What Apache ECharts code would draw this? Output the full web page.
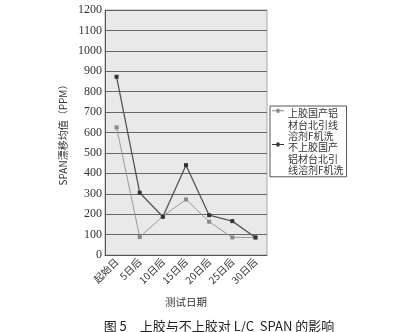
<!DOCTYPE html>
<html><head><meta charset="utf-8">
<script src="https://cdn.jsdelivr.net/npm/echarts@6/dist/echarts.min.js"></script>
<style>html,body{margin:0;padding:0;background:#fff}#c{width:413px;height:332px}</style>
</head><body><div id="c"></div>
<script>
const categories = ['起始日','5日后','10日后','15日后','20日后','25日后','30日后'];
const seriesGlue = [625, 88, 190, 272, 163, 86, 86];
const seriesNoGlue = [873, 305, 187, 440, 195, 166, 86];
const seriesNames = ['上胶国产铝\n材台北引线\n溶剂F机洗', '不上胶国产\n铝材台北引\n线溶剂F机洗'];
const yTicks = {min: 0, max: 1200, interval: 100};

const chart = echarts.init(document.getElementById('c'));
const serif = '"Liberation Serif","DejaVu Serif",serif';
const cjk = '"Noto Sans CJK SC","Liberation Serif",serif';
// legend icon: short line with square marker at the top of a tall box
const iconPath = 'path://M0,3 L12,3 L12,4 L0,4 Z M4.5,1.5 L7.5,1.5 L7.5,5.5 L4.5,5.5 Z M0,34 L0.01,34 L0.01,34.01 Z';
chart.setOption({
  animation: false,
  backgroundColor: '#fff',
  grid: {left: 105, right: 146, top: 10, bottom: 77, show: true, backgroundColor: '#e9e9e9', borderColor: '#aaa', borderWidth: 1},
  title: {
    text: '图 5　上胶与不上胶对 L/C  SPAN 的影响',
    left: 214, textAlign: 'center', top: 315,
    textStyle: {fontFamily: cjk, fontSize: 13, fontWeight: 'normal', color: '#222'}
  },
  legend: {
    orient: 'vertical', left: 270, top: 106,
    data: seriesNames.map(n => ({name: n, icon: iconPath})),
    borderColor: '#555', borderWidth: 1, padding: [2, 3, 1, 2],
    itemGap: 0, itemWidth: 12, itemHeight: 34,
    textStyle: {fontFamily: cjk, fontSize: 10, lineHeight: 11.3, color: '#333', padding: [0, 0, 0, -1]}
  },
  xAxis: {
    type: 'category', data: categories, boundaryGap: true,
    name: '测试日期', nameLocation: 'middle', nameGap: 42,
    nameTextStyle: {fontFamily: cjk, fontSize: 10.5, color: '#333'},
    axisLine: {lineStyle: {color: '#555', width: 1}},
    axisTick: {length: 3, lineStyle: {color: '#555'}},
    axisLabel: {rotate: 45, fontFamily: cjk, fontSize: 10, color: '#333', margin: 5}
  },
  yAxis: {
    type: 'value', min: yTicks.min, max: yTicks.max, interval: yTicks.interval,
    name: 'SPAN漂移均值（PPM）', nameLocation: 'middle', nameGap: 37,
    nameTextStyle: {fontFamily: cjk, fontSize: 10, color: '#333'},
    axisLine: {show: true, lineStyle: {color: '#555'}},
    axisTick: {show: false},
    axisLabel: {fontFamily: serif, fontSize: 12, color: '#333', margin: 3, formatter: v => String(v)},
    splitLine: {lineStyle: {color: '#666', width: 1.2}}
  },
  series: [
    {name: seriesNames[0], type: 'line', data: seriesGlue, symbol: 'rect', symbolSize: 4,
     lineStyle: {color: '#9a9a9a', width: 1}, itemStyle: {color: '#888'}},
    {name: seriesNames[1], type: 'line', data: seriesNoGlue, symbol: 'rect', symbolSize: 4,
     lineStyle: {color: '#555', width: 1.3}, itemStyle: {color: '#333'}}
  ]
});
</script></body></html>
